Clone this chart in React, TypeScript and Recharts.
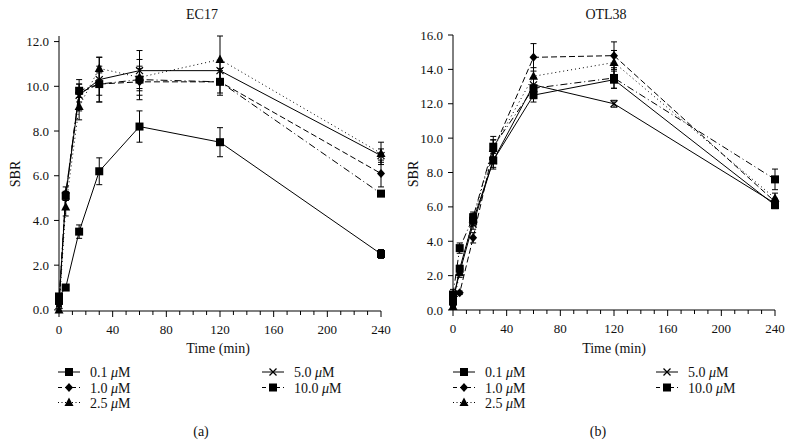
import React from "react";
import { LineChart, Line, XAxis, YAxis, ErrorBar } from "recharts";

// sampling times (min)
const times = [0, 5, 15, 30, 60, 120, 240];

// EC17 (panel a)
const ec17_01 = [0.6, 1.0, 3.5, 6.2, 8.2, 7.5, 2.5];
const ec17_01e = [0.1, 0.05, 0.3, 0.6, 0.7, 0.65, 0.2];
const ec17_10 = [0.3, 5.2, 9.7, 10.1, 10.2, 10.2, 6.1];
const ec17_10e = [0.1, 0.3, 0.4, 0.5, 0.6, 0.5, 0.6];
const ec17_25 = [0.0, 4.6, 9.1, 10.8, 10.4, 11.2, 7.0];
const ec17_25e = [0.05, 0.4, 0.6, 0.5, 0.5, 1.05, 0.5];
const ec17_50 = [0.2, 5.1, 9.6, 10.3, 10.7, 10.7, 6.9];
const ec17_50e = [0.05, 0.2, 0.7, 1.0, 0.9, 0.4, 0.3];
const ec17_100 = [0.4, 5.1, 9.8, 10.1, 10.3, 10.2, 5.2];
const ec17_100e = [0.1, 0.2, 0.3, 0.8, 0.9, 0.6, 0.1];

// OTL38 (panel b)
const otl_01 = [0.5, 2.4, 5.2, 8.7, 12.5, 13.4, 6.1];
const otl_01e = [0.1, 0.2, 0.3, 0.5, 0.4, 0.5, 0.2];
const otl_10 = [0.3, 1.0, 4.2, 9.3, 14.7, 14.8, 6.3];
const otl_10e = [0.1, 0.1, 0.3, 0.6, 0.8, 0.8, 0.2];
const otl_25 = [0.2, 2.2, 5.3, 9.4, 13.6, 14.4, 6.5];
const otl_25e = [0.1, 0.3, 0.3, 0.5, 0.5, 0.7, 0.3];
const otl_50 = [0.6, 2.2, 5.0, 8.7, 13.1, 12.0, 6.2];
const otl_50e = [0.1, 0.2, 0.3, 0.4, 0.4, 0.2, 0.2];
const otl_100 = [0.9, 3.6, 5.4, 9.5, 12.9, 13.5, 7.6];
const otl_100e = [0.3, 0.3, 0.3, 0.6, 0.6, 0.6, 0.6];

const xTicks = [0, 10, 20, 30, 40, 50, 60, 70, 80, 90, 100, 110, 120, 130, 140, 150, 160, 170, 180, 190, 200, 210, 220, 230, 240];
const ec17Ticks = [0, 2, 4, 6, 8, 10, 12];
const otlTicks = [0, 2, 4, 6, 8, 10, 12, 14, 16];

const FONT = "'Liberation Serif', 'DejaVu Serif', serif";

type Series = { key: string; label: string; marker: string; dash?: string };
const series: Series[] = [
  { key: "s01", label: "0.1", marker: "square" },
  { key: "s10", label: "1.0", marker: "diamond", dash: "6 3" },
  { key: "s25", label: "2.5", marker: "triangle", dash: "1 3" },
  { key: "s50", label: "5.0", marker: "cross" },
  { key: "s100", label: "10.0", marker: "square", dash: "7 3 1 3" },
];

function build(vals: number[][], errs: number[][]) {
  return times.map((t, i) => {
    const row: any = { t };
    series.forEach((s, j) => {
      row[s.key] = vals[j][i];
      row[s.key + "e"] = errs[j][i];
    });
    return row;
  });
}

const ec17Data = build(
  [ec17_01, ec17_10, ec17_25, ec17_50, ec17_100],
  [ec17_01e, ec17_10e, ec17_25e, ec17_50e, ec17_100e]
);
const otlData = build(
  [otl_01, otl_10, otl_25, otl_50, otl_100],
  [otl_01e, otl_10e, otl_25e, otl_50e, otl_100e]
);

function Marker({ type, cx, cy }: { type: string; cx: number; cy: number }) {
  if (type === "square")
    return <rect x={cx - 4} y={cy - 4} width={8} height={8} fill="#000" />;
  if (type === "diamond")
    return (
      <polygon
        points={`${cx},${cy - 4.5} ${cx + 4},${cy} ${cx},${cy + 4.5} ${cx - 4},${cy}`}
        fill="#000"
      />
    );
  if (type === "triangle")
    return (
      <polygon
        points={`${cx},${cy - 5} ${cx + 4.5},${cy + 3.5} ${cx - 4.5},${cy + 3.5}`}
        fill="#000"
      />
    );
  return (
    <g stroke="#000" strokeWidth={1.2}>
      <line x1={cx - 3.5} y1={cy - 3.5} x2={cx + 3.5} y2={cy + 3.5} />
      <line x1={cx - 3.5} y1={cy + 3.5} x2={cx + 3.5} y2={cy - 3.5} />
    </g>
  );
}

function XTick({ x, y, payload }: any) {
  const major = payload.value % 40 === 0;
  return (
    <g>
      <line x1={x} x2={x} y1={y} y2={y + (major ? 6 : 4)} stroke="#000" />
      {major && (
        <text x={x} y={y + 23} textAnchor="middle" fontSize={13} fontFamily={FONT} fill="#111">
          {payload.value}
        </text>
      )}
    </g>
  );
}

function YTick({ x, y, payload }: any) {
  return (
    <g>
      <line x1={x - 5} x2={x} y1={y} y2={y} stroke="#000" />
      <text x={x - 10} y={y + 4.5} textAnchor="end" fontSize={13} fontFamily={FONT} fill="#111">
        {payload.value.toFixed(1)}
      </text>
    </g>
  );
}

function Panel({ data, yMax, yTicks, margin }: any) {
  return (
    <LineChart width={400} height={345} data={data} margin={margin}>
      <XAxis
        dataKey="t"
        type="number"
        domain={[0, 240]}
        ticks={xTicks}
        interval={0}
        tickSize={0}
        tickMargin={0}
        tickLine={false}
        tick={<XTick />}
        height={30}
        stroke="#000"
      />
      <YAxis
        type="number"
        domain={[0, yMax]}
        ticks={yTicks}
        interval={0}
        tickSize={0}
        tickMargin={0}
        tickLine={false}
        tick={<YTick />}
        width={50}
        stroke="#000"
      />
      {series.map((s) => (
        <Line
          key={s.key}
          dataKey={s.key}
          stroke="#000"
          strokeWidth={1}
          strokeDasharray={s.dash}
          isAnimationActive={false}
          dot={(p: any) => <Marker key={p.index} type={s.marker} cx={p.cx} cy={p.cy} />}
          activeDot={false}
        >
          <ErrorBar dataKey={s.key + "e"} width={3} stroke="#000" strokeWidth={1} />
        </Line>
      ))}
    </LineChart>
  );
}

function Legend({ left, right }: { left: number; right: number }) {
  const rows = [
    { s: series[0], x: left, y: 372 },
    { s: series[1], x: left, y: 387.5 },
    { s: series[2], x: left, y: 402.5 },
    { s: series[3], x: right, y: 372 },
    { s: series[4], x: right, y: 387.5 },
  ];
  return (
    <g>
      {rows.map(({ s, x, y }) => (
        <g key={s.key}>
          <line x1={x} x2={x + 22} y1={y} y2={y} stroke="#000" strokeDasharray={s.dash === "1 3" ? "1 2.5" : s.dash ? "4 3" : undefined} />
          <Marker type={s.marker} cx={x + 11} cy={y} />
          <text x={x + 32} y={y + 5} fontSize={14} fontFamily={FONT} fill="#111">
            {s.label} <tspan fontStyle="italic">μ</tspan>M
          </text>
        </g>
      ))}
    </g>
  );
}

export default function App() {
  return (
    <div style={{ position: "absolute", left: 0, top: 0, width: 792, height: 443, background: "#fff" }}>
      <div style={{ position: "absolute", left: 0, top: 0 }}>
        <Panel data={ec17Data} yMax={12} yTicks={ec17Ticks} margin={{ top: 36, right: 19, bottom: 4, left: 9 }} />
      </div>
      <div style={{ position: "absolute", left: 396, top: 0 }}>
        <Panel data={otlData} yMax={16} yTicks={otlTicks} margin={{ top: 35, right: 21, bottom: 5, left: 7 }} />
      </div>
      <svg width={792} height={443} style={{ position: "absolute", left: 0, top: 0, pointerEvents: "none" }}>
        <g fontFamily={FONT} fill="#111">
          <text x={202} y={19} textAnchor="middle" fontSize={14}>EC17</text>
          <text x={606} y={19} textAnchor="middle" fontSize={14}>OTL38</text>
          <text transform="translate(20,174) rotate(-90)" textAnchor="middle" fontSize={14}>SBR</text>
          <text transform="translate(418,174) rotate(-90)" textAnchor="middle" fontSize={14}>SBR</text>
          <text x={218} y={353} textAnchor="middle" fontSize={14}>Time (min)</text>
          <text x={614} y={353} textAnchor="middle" fontSize={14}>Time (min)</text>
          <text x={201} y={436} textAnchor="middle" fontSize={14}>(a)</text>
          <text x={598} y={436} textAnchor="middle" fontSize={14}>(b)</text>
        </g>
        <Legend left={58} right={262} />
        <Legend left={453} right={656} />
      </svg>
    </div>
  );
}
